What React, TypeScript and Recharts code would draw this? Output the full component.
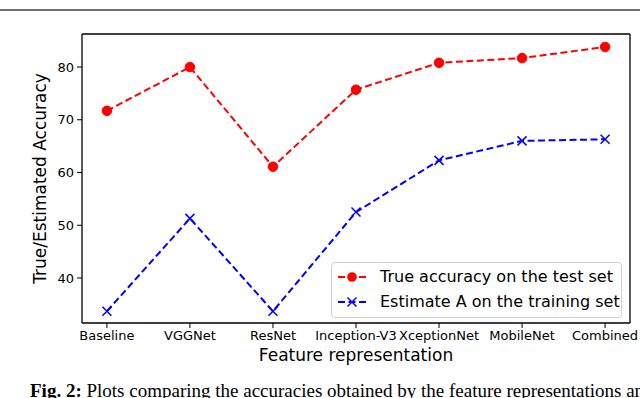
import React from "react";
import { LineChart, Line, XAxis, YAxis, ReferenceLine } from "recharts";

const categories = ["Baseline", "VGGNet", "ResNet", "Inception-V3", "XceptionNet", "MobileNet", "Combined"];
const trueAccuracy = [71.7, 80.0, 61.1, 75.7, 80.8, 81.7, 83.8];
const estimateA = [33.7, 51.3, 33.7, 52.5, 62.3, 66.0, 66.3];
const yTicks = [40, 50, 60, 70, 80];
const seriesNames = ["True accuracy on the test set", "Estimate A on the training set"];

const data = categories.map((c, i) => ({ idx: i, name: c, trueAcc: trueAccuracy[i], estA: estimateA[i] }));
const xTicks = categories.map((_, i) => i);
const X_MIN = -0.3;
const X_MAX = categories.length - 1 + 0.3;
const Y_MIN = 31.47;
const Y_MAX = 86.26;

const FONT = "'DejaVu Sans', sans-serif";

const RedDot = (props: any) => {
  const { cx, cy } = props;
  if (cx == null || cy == null) return null;
  return <circle cx={cx} cy={cy} r={4.8} fill="#ff0000" stroke="#ff0000" />;
};

const BlueX = (props: any) => {
  const { cx, cy } = props;
  if (cx == null || cy == null) return null;
  const s = 4.5;
  return (
    <g stroke="#0000ff" strokeWidth={1.5}>
      <line x1={cx - s} y1={cy - s} x2={cx + s} y2={cy + s} />
      <line x1={cx - s} y1={cy + s} x2={cx + s} y2={cy - s} />
    </g>
  );
};

const LegendBox = () => (
  <div
    style={{
      position: "absolute",
      left: 331,
      top: 262,
      width: 291,
      height: 56,
      border: "1px solid #d0d0d0",
      borderRadius: 4,
      background: "rgba(255,255,255,0.85)",
      boxSizing: "border-box",
      fontFamily: FONT,
      fontSize: 16,
      color: "#000",
    }}
  >
    {seriesNames.map((n, i) => (
      <div key={n} style={{ position: "absolute", left: 0, top: i === 0 ? 3 : 28, height: 22, width: 289 }}>
        <svg width={40} height={22} style={{ position: "absolute", left: 4, top: 0 }}>
          <line x1={2} y1={11} x2={30} y2={11} stroke={i === 0 ? "#ff0000" : "#0000ff"} strokeWidth={2} strokeDasharray="7 3.5" />
          {i === 0 ? (
            <circle cx={16} cy={11} r={4.8} fill="#ff0000" />
          ) : (
            <g stroke="#0000ff" strokeWidth={1.5}>
              <line x1={11.5} y1={6.5} x2={20.5} y2={15.5} />
              <line x1={11.5} y1={15.5} x2={20.5} y2={6.5} />
            </g>
          )}
        </svg>
        <span style={{ position: "absolute", left: 48, top: 1, whiteSpace: "nowrap", lineHeight: "20px" }}>{n}</span>
      </div>
    ))}
  </div>
);

export default function App() {
  return (
    <div style={{ position: "absolute", left: 0, top: 0, width: 640, height: 398, overflow: "hidden", background: "#fff" }}>
      <div style={{ position: "absolute", left: 0, top: 9, width: 640, height: 2, background: "#6e6e6e" }} />
      <LineChart
        width={640}
        height={398}
        data={data}
        margin={{ top: 34, right: 10, left: 0, bottom: 45 }}
      >
        <XAxis
          dataKey="idx"
          type="number"
          domain={[X_MIN, X_MAX]}
          ticks={xTicks}
          tickFormatter={(v: number) => categories[v] ?? ""}
          allowDataOverflow
          tickLine={{ stroke: "#000" }}
          axisLine={{ stroke: "#000", strokeWidth: 1.3 }}
          tick={{ fill: "#000", fontSize: 13, fontFamily: FONT }}
          tickSize={5}
          tickMargin={3}
          height={30}
          interval={0}
          label={{ value: "Feature representation", position: "bottom", offset: -4, fill: "#000", fontSize: 17, fontFamily: FONT }}
        />
        <YAxis
          domain={[Y_MIN, Y_MAX]}
          ticks={yTicks}
          type="number"
          width={82}
          tickLine={{ stroke: "#000" }}
          axisLine={{ stroke: "#000", strokeWidth: 1.3 }}
          tick={{ fill: "#000", fontSize: 13, fontFamily: FONT }}
          tickSize={5}
          tickMargin={3}
          allowDataOverflow
          label={{ value: "True/Estimated Accuracy", angle: -90, position: "center", dx: -1, fill: "#000", fontSize: 17, fontFamily: FONT }}
        />
        <ReferenceLine x={X_MAX} stroke="#000" strokeWidth={1.3} ifOverflow="visible" />
        <ReferenceLine y={Y_MAX} stroke="#000" strokeWidth={1.3} ifOverflow="visible" />
        <Line
          type="linear"
          dataKey="trueAcc"
          name={seriesNames[0]}
          stroke="#ff0000"
          strokeWidth={2}
          strokeDasharray="7 3.5"
          dot={<RedDot />}
          activeDot={false}
          isAnimationActive={false}
        />
        <Line
          type="linear"
          dataKey="estA"
          name={seriesNames[1]}
          stroke="#0000ff"
          strokeWidth={2}
          strokeDasharray="7 3.5"
          dot={<BlueX />}
          activeDot={false}
          isAnimationActive={false}
        />
      </LineChart>
      <LegendBox />
      <div
        style={{
          position: "absolute",
          left: 30,
          top: 380,
          whiteSpace: "nowrap",
          fontFamily: "'Liberation Serif', 'DejaVu Serif', serif",
          fontSize: 19,
          color: "#000",
        }}
      >
        <b>Fig. 2:</b> Plots comparing the accuracies obtained by the feature representations and the estimate
      </div>
    </div>
  );
}
